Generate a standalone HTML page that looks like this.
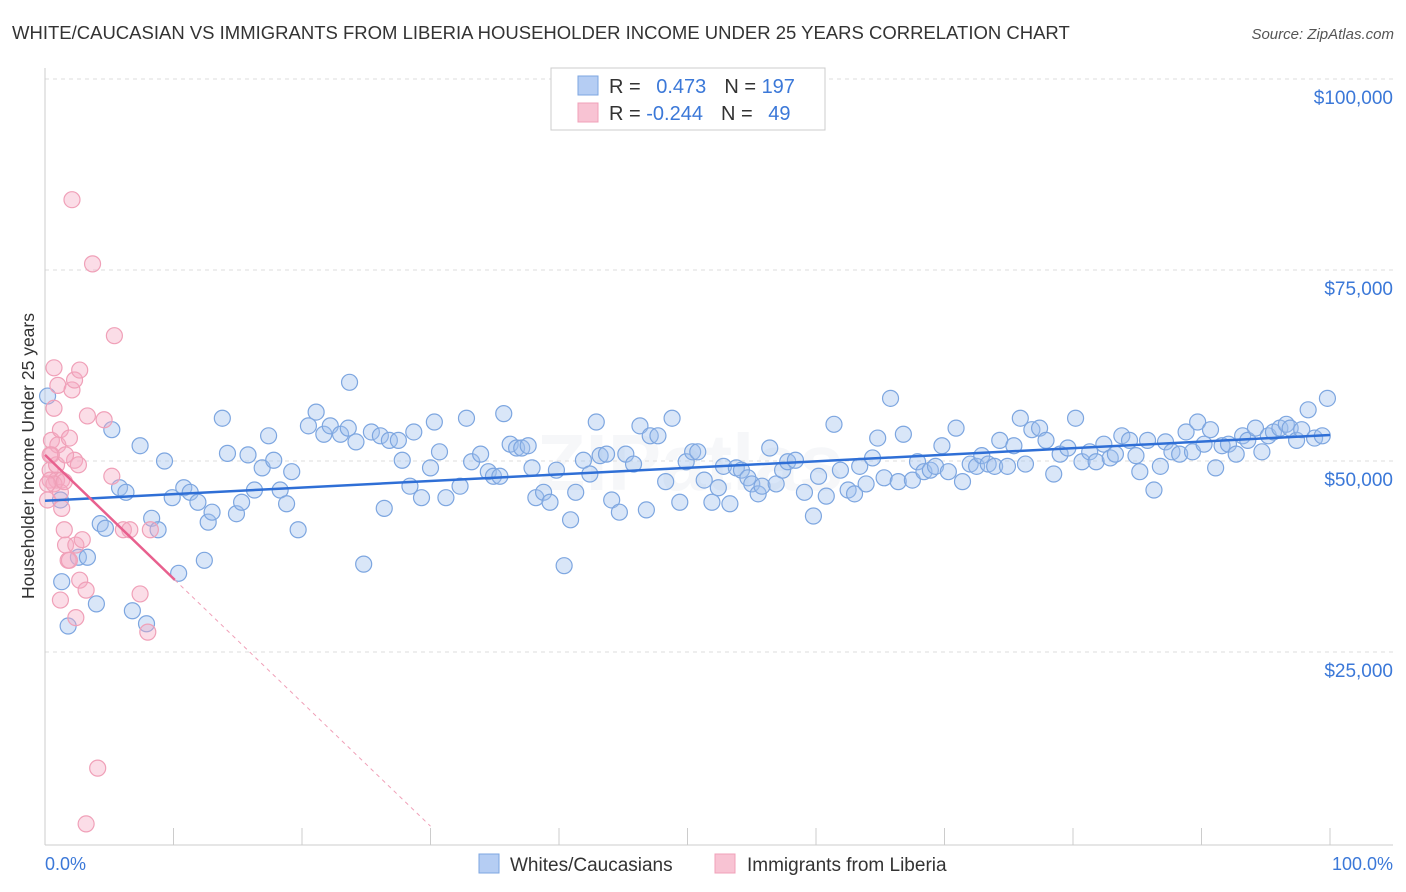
<!DOCTYPE html>
<html><head><meta charset="utf-8"><style>
body{margin:0;background:#fff;font-family:"Liberation Sans",sans-serif;}
svg{display:block}
</style></head><body>
<svg id="chart" width="1406" height="892" viewBox="0 0 1406 892" xmlns="http://www.w3.org/2000/svg" font-family="Liberation Sans, sans-serif">
<text x="12" y="39" font-size="18.5" fill="#333">WHITE/CAUCASIAN VS IMMIGRANTS FROM LIBERIA HOUSEHOLDER INCOME UNDER 25 YEARS CORRELATION CHART</text>
<text x="1394" y="39" font-size="15" fill="#555" font-style="italic" text-anchor="end">Source: ZipAtlas.com</text>
<text x="690" y="490" font-size="80" fill="#eef1f5" text-anchor="middle" font-weight="bold" opacity="0.5">ZIPatlas</text>
<g id="grid"></g><g id="ticks"></g>
<g id="blue"></g><g id="pink"></g><g id="lines"></g>
<text transform="translate(34,456) rotate(-90)" font-size="17.5" fill="#333" text-anchor="middle">Householder Income Under 25 years</text>
<text x="45" y="870" font-size="18" fill="#3b78d8">0.0%</text>
<text x="1393" y="870" font-size="18" fill="#3b78d8" text-anchor="end">100.0%</text>
<g>
<rect x="551" y="68" width="274" height="62" fill="#fff" stroke="#ccc"/>
<rect x="578" y="76" width="20" height="19" fill="#b5cdf3" stroke="#7da6e0"/>
<rect x="578" y="103" width="20" height="19" fill="#f8c3d3" stroke="#f0a0b8"/>
<text x="609" y="93" font-size="20" fill="#333">R = <tspan fill="#3b78d8" dx="10">0.473</tspan><tspan dx="18" fill="#333">N = </tspan><tspan fill="#3b78d8">197</tspan></text>
<text x="609" y="120" font-size="20" fill="#333">R = <tspan fill="#3b78d8">-0.244</tspan><tspan dx="18" fill="#333">N = </tspan><tspan fill="#3b78d8" dx="10">49</tspan></text>
</g>
<g>
<rect x="479" y="854" width="20" height="19" fill="#b5cdf3" stroke="#7da6e0"/>
<text x="510" y="871" font-size="19" fill="#333">Whites/Caucasians</text>
<rect x="715" y="854" width="20" height="19" fill="#f8c3d3" stroke="#f0a0b8"/>
<text x="747" y="871" font-size="19" fill="#333">Immigrants from Liberia</text>
</g>
</svg>
<script>
const yTicks=[25000,50000,75000,100000];
const yTickLabels=["$25,000","$50,000","$75,000","$100,000"];
const xTicks=[0,10,20,30,40,50,60,70,80,90,100];
const blueX=[0.2,1.2,1.3,1.8,2.6,3.3,4.0,4.3,4.7,5.2,5.8,6.3,6.8,7.4,7.9,8.3,8.8,9.3,9.9,10.4,10.8,11.3,11.9,12.4,12.7,13.0,13.8,14.2,14.9,15.3,15.8,16.3,16.9,17.4,17.8,18.3,18.8,19.2,19.7,20.5,21.1,21.7,22.2,23.0,23.6,23.7,24.2,24.8,25.4,26.1,26.4,26.8,27.5,27.8,28.4,28.7,29.3,30.0,30.3,30.7,31.2,32.3,32.8,33.2,33.9,34.5,34.9,35.4,35.7,36.2,36.7,37.1,37.6,37.9,38.2,38.8,39.3,39.8,40.4,40.9,41.3,41.9,42.4,42.9,43.2,43.7,44.1,44.7,45.2,45.8,46.3,46.8,47.1,47.7,48.3,48.8,49.4,49.9,50.4,50.8,51.3,51.9,52.4,52.8,53.3,53.8,54.2,54.7,55.0,55.5,55.8,56.4,56.9,57.4,57.8,58.4,59.1,59.8,60.2,60.8,61.4,61.9,62.5,63.0,63.4,63.9,64.4,64.8,65.3,65.8,66.4,66.8,67.5,67.9,68.4,68.9,69.3,69.8,70.3,70.9,71.4,72.0,72.5,72.9,73.4,73.9,74.3,74.9,75.4,75.9,76.3,76.8,77.4,77.9,78.5,79.0,79.6,80.2,80.7,81.3,81.8,82.4,82.9,83.3,83.8,84.4,84.9,85.2,85.8,86.3,86.8,87.2,87.7,88.3,88.8,89.3,89.7,90.2,90.7,91.1,91.6,92.1,92.7,93.2,93.6,94.2,94.7,95.2,95.6,96.1,96.6,96.9,97.4,97.8,98.3,98.8,99.4,99.8];
const blueY=[58.5,44.9,34.2,28.4,37.4,37.4,31.3,41.8,41.2,54.1,46.5,45.9,30.4,52.0,28.7,42.5,41.0,50.0,45.2,35.3,46.5,45.9,44.6,37.0,42.0,43.3,55.6,51.0,43.1,44.6,50.8,46.2,49.1,53.3,50.1,46.2,44.4,48.6,41.0,54.6,56.4,53.5,54.6,53.5,54.3,60.3,52.5,36.5,53.8,53.3,43.8,52.7,52.7,50.1,46.7,53.8,45.2,49.1,55.1,51.2,45.2,46.7,55.6,49.9,50.9,48.6,48.0,48.0,56.2,52.2,51.7,51.7,52.0,49.1,45.2,45.9,44.6,48.8,36.3,42.3,45.9,50.1,48.3,55.1,50.7,50.9,44.9,43.3,50.9,49.6,54.6,43.6,53.3,53.3,47.3,55.6,44.6,49.9,51.2,51.2,47.5,44.6,46.5,49.3,44.4,49.1,48.8,47.8,47.0,45.7,46.7,51.7,47.0,48.8,49.9,50.1,45.9,42.8,48.0,45.4,54.8,48.8,46.2,45.7,49.3,47.0,50.4,53.0,47.8,58.2,47.3,53.5,47.5,49.9,48.6,48.8,49.3,52.0,48.6,54.3,47.3,49.6,49.3,50.7,49.6,49.3,52.7,49.3,52.0,55.6,49.6,54.1,54.3,52.7,48.3,50.9,51.7,55.6,49.9,51.2,49.9,52.2,50.4,50.9,53.3,52.7,50.7,48.6,52.7,46.2,49.3,52.5,51.2,50.9,53.8,51.2,55.1,52.2,54.1,49.1,52.0,52.2,50.9,53.3,52.7,54.3,51.2,53.3,53.8,54.3,54.8,54.3,52.7,54.1,56.7,53.0,53.3,58.2];
const pinkX=[0.2,0.4,0.4,0.5,0.5,0.7,0.7,0.9,0.9,1.0,1.0,1.2,1.2,1.3,1.3,1.5,1.6,1.8,1.9,1.9,2.1,2.1,2.3,2.3,2.4,2.4,2.6,2.7,2.7,2.9,3.2,3.3,3.7,4.1,3.2,4.6,5.2,5.4,6.1,6.6,7.4,8.0,8.2,1.2,1.6,0.4,0.7,0.2,1.5];
const pinkY=[44.9,48.8,47.5,52.7,50.8,56.9,62.2,47.5,49.5,52.1,59.9,31.8,54.1,43.8,47.5,41.0,39.0,37.0,53.0,37.0,59.3,84.2,60.6,50.1,29.5,39.0,49.5,34.4,61.9,39.7,33.1,55.9,75.8,9.8,2.5,55.4,48.0,66.4,41.0,41.0,32.6,27.6,41.0,45.9,50.8,50.8,47.0,47.0,47.3];
const blueTrend=[44.8,53.4];
const pinkTrend=[50.8,-1.62];
const pinkSolidEnd=10.1, pinkDashEnd=30.0;
const NS="http://www.w3.org/2000/svg";
const X=p=>45+p*12.85, Y=v=>843-v*191/25000, Yk=k=>Y(k*1000);
function mk(t,a,parent){const e=document.createElementNS(NS,t);for(const k in a)e.setAttribute(k,a[k]);document.getElementById(parent).appendChild(e);return e;}
yTicks.forEach((v,i)=>{
 const l=mk('line',{x1:45,x2:1393,y1:Y(v),y2:Y(v),stroke:'#ddd','stroke-dasharray':'4,4'},'grid');
 
 
 const t=mk('text',{x:1393,y:Y(v)+25,'font-size':19,fill:'#3b78d8','text-anchor':'end'},'grid');
 t.textContent=yTickLabels[i];
 
 
});
const ax=mk('line',{x1:45,x2:1393,y1:845,y2:845,stroke:'#ccc'},'ticks');


const ay=mk('line',{x1:45,x2:45,y1:68,y2:845,stroke:'#ccc'},'ticks');


xTicks.forEach(p=>{const l=mk('line',{x1:X(p),x2:X(p),y1:828,y2:845,stroke:'#ccc'},'ticks');
 
 });
blueX.forEach((p,i)=>{const c=mk('circle',{cx:X(p),cy:Yk(blueY[i]),r:8,fill:'rgba(160,192,238,0.4)',stroke:'#7da6e0','stroke-width':1.2},'blue');
 
 });
pinkX.forEach((p,i)=>{const c=mk('circle',{cx:X(p),cy:Yk(pinkY[i]),r:8,fill:'rgba(245,170,195,0.4)',stroke:'#f0a0b8','stroke-width':1.2},'pink');
 
 });
const bl=mk('line',{x1:X(0),y1:Yk(blueTrend[0]),x2:X(100),y2:Yk(blueTrend[1]),stroke:'#2f6fd6','stroke-width':2.5},'lines');


const pf=p=>pinkTrend[0]+pinkTrend[1]*p;
const pl=mk('line',{x1:X(0),y1:Yk(pf(0)),x2:X(pinkSolidEnd),y2:Yk(pf(pinkSolidEnd)),stroke:'#e8608e','stroke-width':2.5},'lines');


const pd=mk('line',{x1:X(pinkSolidEnd),y1:Yk(pf(pinkSolidEnd)),x2:X(pinkDashEnd),y2:Yk(pf(pinkDashEnd)),stroke:'#f0a0b8','stroke-width':1,'stroke-dasharray':'4,4'},'lines');


</script>
</body></html>
